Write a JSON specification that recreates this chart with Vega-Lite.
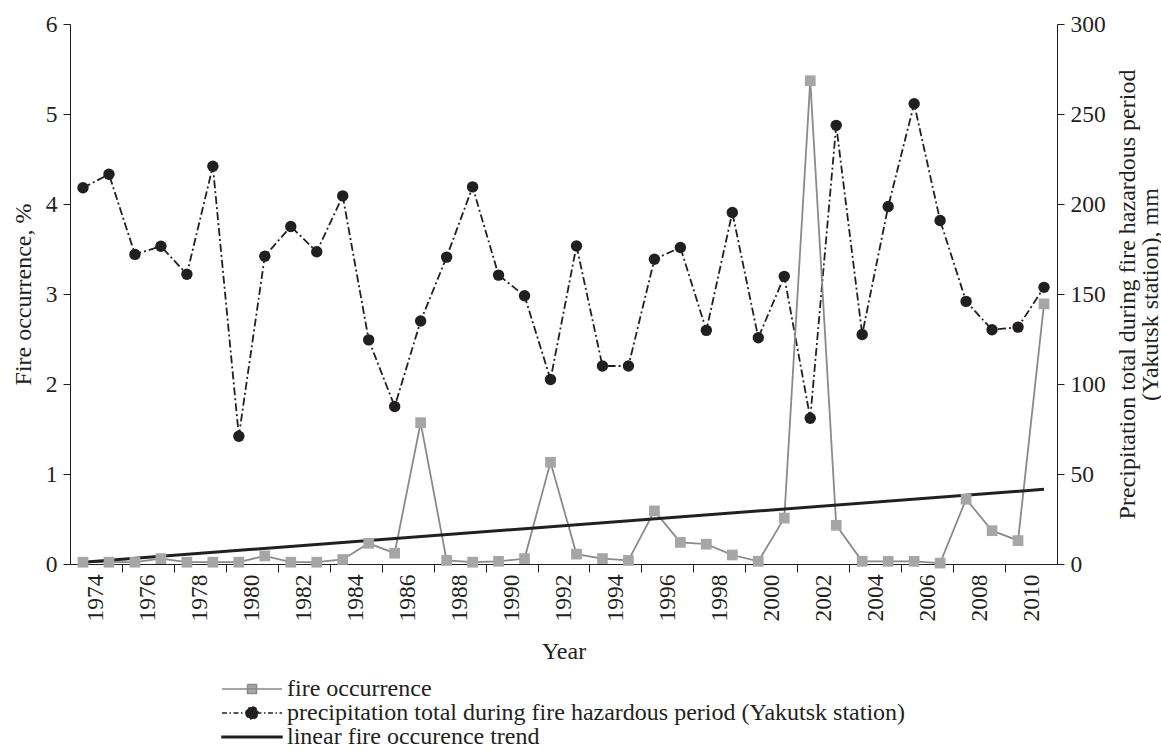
{
  "$schema": "https://vega.github.io/schema/vega-lite/v6.json",
  "width": 987,
  "height": 540,
  "autosize": {"type": "none"},
  "padding": {"left": 70, "top": 24, "right": 104, "bottom": 187},
  "background": "white",
  "config": {
    "font": "Liberation Serif",
    "view": {"stroke": null},
    "axis": {
      "grid": false,
      "domainColor": "#231f20",
      "tickColor": "#231f20",
      "labelColor": "#231f20",
      "titleColor": "#231f20",
      "labelFont": "Liberation Serif",
      "titleFont": "Liberation Serif",
      "labelFontSize": 23.5,
      "titleFontSize": 24,
      "titleFontWeight": "normal",
      "domainWidth": 1,
      "tickWidth": 1
    }
  },
  "datasets": {
    "d": [
      {"year": 1974, "fire": 0.02, "precip": 209},
      {"year": 1975, "fire": 0.02, "precip": 216.5},
      {"year": 1976, "fire": 0.02, "precip": 172},
      {"year": 1977, "fire": 0.06, "precip": 176.5},
      {"year": 1978, "fire": 0.02, "precip": 161},
      {"year": 1979, "fire": 0.02, "precip": 221},
      {"year": 1980, "fire": 0.02, "precip": 71},
      {"year": 1981, "fire": 0.09, "precip": 171},
      {"year": 1982, "fire": 0.02, "precip": 187.5},
      {"year": 1983, "fire": 0.02, "precip": 173.5},
      {"year": 1984, "fire": 0.05, "precip": 204.5},
      {"year": 1985, "fire": 0.23, "precip": 124.5},
      {"year": 1986, "fire": 0.12, "precip": 87.5},
      {"year": 1987, "fire": 1.57, "precip": 135},
      {"year": 1988, "fire": 0.04, "precip": 170.5},
      {"year": 1989, "fire": 0.02, "precip": 209.5},
      {"year": 1990, "fire": 0.03, "precip": 160.5},
      {"year": 1991, "fire": 0.06, "precip": 149},
      {"year": 1992, "fire": 1.13, "precip": 102.5},
      {"year": 1993, "fire": 0.11, "precip": 176.7},
      {"year": 1994, "fire": 0.06, "precip": 110},
      {"year": 1995, "fire": 0.04, "precip": 110},
      {"year": 1996, "fire": 0.59, "precip": 169.3},
      {"year": 1997, "fire": 0.24, "precip": 175.8},
      {"year": 1998, "fire": 0.22, "precip": 129.8},
      {"year": 1999, "fire": 0.10, "precip": 195.3},
      {"year": 2000, "fire": 0.03, "precip": 125.7},
      {"year": 2001, "fire": 0.51, "precip": 159.8},
      {"year": 2002, "fire": 5.37, "precip": 81},
      {"year": 2003, "fire": 0.43, "precip": 243.7},
      {"year": 2004, "fire": 0.03, "precip": 127.5},
      {"year": 2005, "fire": 0.03, "precip": 198.6},
      {"year": 2006, "fire": 0.03, "precip": 255.7},
      {"year": 2007, "fire": 0.01, "precip": 190.8},
      {"year": 2008, "fire": 0.72, "precip": 145.9},
      {"year": 2009, "fire": 0.37, "precip": 130.1},
      {"year": 2010, "fire": 0.26, "precip": 131.6},
      {"year": 2011, "fire": 2.89, "precip": 153.7}
    ],
    "t": [
      {"year": 1974, "trend": 0.02},
      {"year": 2011, "trend": 0.83}
    ]
  },
  "data": {"name": "d"},
  "encoding": {
    "x": {
      "field": "year",
      "type": "quantitative",
      "scale": {"domain": [1973.5, 2011.5], "nice": false, "zero": false},
      "axis": {
        "values": [1974.5, 1975.5, 1976.5, 1977.5, 1978.5, 1979.5, 1980.5, 1981.5, 1982.5, 1983.5, 1984.5, 1985.5, 1986.5, 1987.5, 1988.5, 1989.5, 1990.5, 1991.5, 1992.5, 1993.5, 1994.5, 1995.5, 1996.5, 1997.5, 1998.5, 1999.5, 2000.5, 2001.5, 2002.5, 2003.5, 2004.5, 2005.5, 2006.5, 2007.5, 2008.5, 2009.5, 2010.5],
        "tickSize": 8,
        "tickOpacity": {"condition": {"test": "datum.value % 2 == 1.5", "value": 1}, "value": 0},
        "labelExpr": "datum.value % 2 == 0.5 ? floor(datum.value) + '' : ''",
        "labelAngle": -90,
        "labelPadding": 2,
        "labelOverlap": false,
        "labelBound": false,
        "labelFlush": false,
        "title": "Year",
        "titleY": 87,
        "titleBaseline": "middle"
      }
    }
  },
  "layer": [
    {
      "encoding": {
        "y": {
          "field": "precip",
          "type": "quantitative",
          "scale": {"domain": [0, 300], "nice": false},
          "axis": {
            "orient": "right",
            "values": [0, 50, 100, 150, 200, 250, 300],
            "tickSize": 7,
            "labelPadding": 6,
            "title": ["Precipitation total during fire hazardous period", "(Yakutsk station), mm"],
            "titleX": 70,
            "titleY": 270,
            "titleAngle": -90,
            "titleAlign": "center",
            "titleBaseline": "middle",
            "titleLineHeight": 23
          }
        }
      },
      "layer": [
        {"mark": {"type": "line", "color": "#231f20", "strokeWidth": 1.8, "strokeDash": [8, 3, 2, 3]}},
        {"mark": {"type": "point", "shape": "circle", "filled": true, "size": 130, "color": "#231f20", "opacity": 1}}
      ]
    },
    {
      "layer": [
        {
          "mark": {"type": "line", "color": "#8a8a8a", "strokeWidth": 1.8},
          "encoding": {
            "y": {
              "field": "fire",
              "type": "quantitative",
              "scale": {"domain": [0, 6], "nice": false},
              "axis": {
                "orient": "left",
                "values": [0, 1, 2, 3, 4, 5, 6],
                "format": "d",
                "tickSize": 7,
                "labelPadding": 6,
                "title": "Fire occurrence, %",
                "titleX": -47,
                "titleY": 270,
                "titleAngle": -90,
                "titleAlign": "center",
                "titleBaseline": "middle"
              }
            }
          }
        },
        {
          "data": {"name": "t"},
          "mark": {"type": "line", "strokeWidth": 3},
          "encoding": {
            "y": {
              "field": "trend",
              "type": "quantitative",
              "scale": {"domain": [0, 6], "nice": false},
              "axis": {
                "orient": "left",
                "values": [0, 1, 2, 3, 4, 5, 6],
                "format": "d",
                "tickSize": 7,
                "labelPadding": 6,
                "title": "Fire occurrence, %",
                "titleX": -47,
                "titleY": 270,
                "titleAngle": -90,
                "titleAlign": "center",
                "titleBaseline": "middle"
              }
            },
            "color": {
              "datum": "linear fire occurence trend",
              "scale": {
                "domain": ["fire occurrence", "precipitation total during fire hazardous period (Yakutsk station)", "linear fire occurence trend"],
                "range": ["#8a8a8a", "#231f20", "#231f20"]
              },
              "legend": {
                "orient": "none",
                "legendX": 152,
                "legendY": 653,
                "title": null,
                "direction": "vertical",
                "padding": 0,
                "labelFont": "Liberation Serif",
                "labelFontSize": 24,
                "labelColor": "#231f20",
                "labelLimit": 1000,
                "symbolSize": 100,
                "symbolStrokeWidth": 1.5,
                "symbolOffset": 18,
                "labelOffset": 23,
                "rowPadding": 0,
                "encoding": {
                  "symbols": {
                    "shape": {"value": {"expr": "datum.index == 0 ? 'M-6,0H6M-0.9,-0.9H0.9V0.9H-0.9Z' : datum.index == 1 ? 'M-6,0H6M-1.2,0A1.2,1.2,0,1,0,1.2,0A1.2,1.2,0,1,0,-1.2,0Z' : 'M-6,-0.15H6V0.15H-6Z'"}},
                    "fill": {"value": {"expr": "datum.index == 0 ? '#a6a6a6' : '#231f20'"}},
                    "stroke": {"value": {"expr": "datum.index == 0 ? '#8a8a8a' : '#231f20'"}},
                    "strokeDash": {"value": {"expr": "datum.index == 1 ? [5, 2.5, 1.5, 2.5] : [100, 0]"}},
                    "size": {"value": 100},
                    "opacity": {"value": 1}
                  }
                }
              }
            }
          }
        },
        {
          "mark": {"type": "point", "shape": "square", "filled": true, "size": 115, "color": "#a6a6a6", "opacity": 1},
          "encoding": {
            "y": {
              "field": "fire",
              "type": "quantitative",
              "scale": {"domain": [0, 6], "nice": false},
              "axis": {
                "orient": "left",
                "values": [0, 1, 2, 3, 4, 5, 6],
                "format": "d",
                "tickSize": 7,
                "labelPadding": 6,
                "title": "Fire occurrence, %",
                "titleX": -47,
                "titleY": 270,
                "titleAngle": -90,
                "titleAlign": "center",
                "titleBaseline": "middle"
              }
            }
          }
        }
      ]
    }
  ],
  "resolve": {"scale": {"y": "independent"}}
}
